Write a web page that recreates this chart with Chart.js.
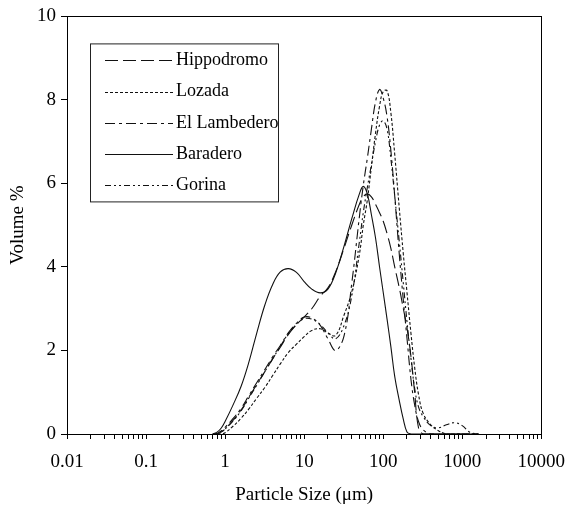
<!DOCTYPE html>
<html>
<head>
<meta charset="utf-8">
<script src="https://cdn.jsdelivr.net/npm/chart.js@4.4.1/dist/chart.umd.min.js"></script>
<style>
  html, body { margin: 0; padding: 0; background: #fff; }
  #wrap { width: 577px; height: 508px; }
</style>
</head>
<body>
<div id="wrap"><canvas id="psd" width="577" height="508"></canvas></div>
<script>
// particle size classes (um)
const sizes = [0.7, 0.8, 0.9, 1, 1.25, 1.6, 2, 2.5, 3.2, 4, 5, 6.3, 8, 10, 12.5, 16, 20, 25, 32, 40,
  50, 56, 63, 71, 80, 90, 100, 112, 125, 140, 160, 180, 200, 225, 250, 280, 320, 400, 500, 630,
  800, 1000, 1250, 1600];

// volume % per class
const hippodromo = [0, 0, 0.05, 0.12, 0.32, 0.58, 0.88, 1.18, 1.5, 1.8, 2.08, 2.38, 2.62, 2.8, 3.0, 3.3, 3.5, 3.88, 4.45, 5.0,
  5.5, 5.68, 5.75, 5.68, 5.5, 5.3, 5.1, 4.8, 4.45, 4.0, 3.5, 3.0, 2.55, 1.85, 1.0, 0.15, 0, 0, 0, 0,
  0, 0, 0, 0];
const lozada = [0, 0, 0, 0.03, 0.18, 0.38, 0.6, 0.85, 1.12, 1.4, 1.68, 1.95, 2.15, 2.33, 2.48, 2.52, 2.42, 2.36, 2.85, 3.4,
  4.3, 5.0, 5.6, 6.4, 7.2, 7.85, 8.2, 8.22, 7.7, 6.7, 5.4, 4.3, 3.4, 2.4, 1.6, 0.95, 0.5, 0.22, 0.08, 0,
  0, 0, 0, 0];
const elLambedero = [0, 0.02, 0.08, 0.16, 0.36, 0.62, 0.92, 1.22, 1.55, 1.85, 2.12, 2.42, 2.65, 2.8, 2.78, 2.6, 2.28, 2.0, 2.35, 3.6,
  5.2, 5.95, 6.6, 7.3, 7.95, 8.25, 8.05, 7.6, 6.8, 5.7, 4.3, 3.2, 2.3, 1.3, 0.7, 0.3, 0.1, 0, 0, 0,
  0, 0, 0, 0];
const baradero = [0, 0.05, 0.15, 0.3, 0.68, 1.15, 1.72, 2.4, 3.1, 3.58, 3.88, 3.96, 3.87, 3.65, 3.47, 3.38, 3.47, 3.85, 4.5, 5.15,
  5.75, 5.93, 5.75, 5.25, 4.7, 4.0, 3.4, 2.75, 2.1, 1.38, 0.8, 0.35, 0.05, 0, 0, 0, 0, 0, 0, 0,
  0, 0, 0, 0];
const gorina = [0, 0, 0.05, 0.12, 0.3, 0.56, 0.86, 1.16, 1.5, 1.8, 2.1, 2.4, 2.62, 2.76, 2.75, 2.62, 2.42, 2.28, 2.6, 3.3,
  4.6, 5.3, 5.9, 6.45, 7.0, 7.4, 7.5, 7.3, 6.6, 5.7, 4.6, 3.6, 2.7, 1.8, 1.1, 0.65, 0.42, 0.2, 0.15, 0.22,
  0.27, 0.2, 0.04, 0];

const xDecades = [0.01, 0.1, 1, 10, 100, 1000, 10000];
const yTicks = [0, 2, 4, 6, 8, 10];

const series = [
  { label: 'Hippodromo', values: hippodromo, dash: [13, 5] },
  { label: 'Lozada', values: lozada, dash: [3, 2] },
  { label: 'El Lambedero', values: elLambedero, dash: [10, 4, 3, 4] },
  { label: 'Baradero', values: baradero, dash: [] },
  { label: 'Gorina', values: gorina, dash: [6, 3, 2, 3, 2, 3] }
];

const serif = "'Liberation Serif', 'Times New Roman', serif";
Chart.defaults.font.family = serif;
Chart.defaults.color = '#000';

// box round the plot + legend inside it
const framePlugin = {
  id: 'frame',
  afterDraw(chart) {
    const { ctx, chartArea: a } = chart;
    ctx.save();
    ctx.strokeStyle = '#000';
    ctx.lineWidth = 1;
    ctx.setLineDash([]);
    ctx.strokeRect(Math.round(a.left) + 0.5, Math.round(a.top) + 0.5, Math.round(a.right - a.left), Math.round(a.bottom - a.top));

    // legend
    const lx = a.left + 23, ly = a.top + 27;
    ctx.strokeStyle = '#222';
    ctx.strokeRect(lx + 0.5, ly + 0.5, 188, 158);
    ctx.font = '18px ' + serif;
    ctx.fillStyle = '#000';
    ctx.textBaseline = 'middle';
    chart.data.datasets.forEach((ds, i) => {
      const y = ly + 17 + i * 31.2;
      ctx.beginPath();
      ctx.setLineDash(ds.borderDash);
      ctx.strokeStyle = '#111';
      ctx.moveTo(lx + 15, Math.round(y) + 0.5);
      ctx.lineTo(lx + 83, Math.round(y) + 0.5);
      ctx.stroke();
      ctx.setLineDash([]);
      ctx.fillText(ds.label, lx + 86, y);
    });
    ctx.restore();
  }
};

new Chart(document.getElementById('psd'), {
  type: 'line',
  data: {
    datasets: series.map(s => ({
      label: s.label,
      data: sizes.map((x, i) => ({ x: x, y: s.values[i] })),
      borderColor: '#111',
      borderWidth: 1.1,
      borderDash: s.dash,
      pointRadius: 0,
      fill: false,
      tension: 0.4
    }))
  },
  options: {
    responsive: false,
    devicePixelRatio: 1,
    animation: false,
    layout: { padding: { left: 0, right: 28, top: 15, bottom: 0 } },
    plugins: { legend: { display: false }, tooltip: { enabled: false } },
    scales: {
      x: {
        type: 'logarithmic',
        min: 0.01,
        max: 10000,
        afterBuildTicks(axis) {
          const t = [];
          xDecades.forEach((d, i) => {
            const last = i === xDecades.length - 1;
            for (let k = 1; k <= (last ? 1 : 9); k++) t.push({ value: d * k });
          });
          axis.ticks = t;
        },
        afterFit(axis) { axis.height = 74; },
        ticks: {
          autoSkip: false,
          maxRotation: 0,
          padding: 12,
          font: { size: 19 },
          callback: v => xDecades.includes(v) ? String(v) : ''
        },
        grid: { drawOnChartArea: false, drawTicks: true, tickLength: 5, color: '#000' },
        border: { color: '#000' },
        title: {
          display: true,
          text: 'Particle Size (\u03bcm)',
          font: { size: 19, lineHeight: 1.2 },
          padding: { top: 0, bottom: 2 }
        }
      },
      y: {
        min: 0,
        max: 10,
        afterBuildTicks(axis) { axis.ticks = yTicks.map(v => ({ value: v })); },
        afterFit(axis) { axis.width = 67; },
        ticks: { padding: 5, font: { size: 19 } },
        grid: { drawOnChartArea: false, drawTicks: true, tickLength: 6, color: '#000' },
        border: { color: '#000' },
        title: {
          display: true,
          text: 'Volume %',
          font: { size: 19, lineHeight: 1.2 },
          padding: { top: 7, bottom: 0 }
        }
      }
    }
  },
  plugins: [framePlugin]
});
</script>
</body>
</html>
